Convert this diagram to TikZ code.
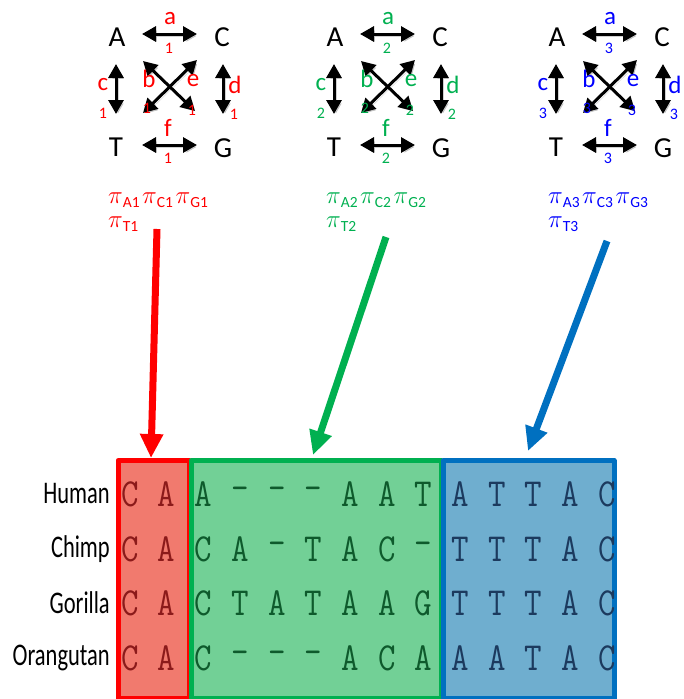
\documentclass[tikz,border=0pt]{standalone}
\usepackage{fontspec}
\setmainfont{Carlito}
\usetikzlibrary{arrows.meta}
\definecolor{rd}{HTML}{FF0000}
\definecolor{gn}{HTML}{00B050}
\definecolor{bl}{HTML}{0000FF}
\definecolor{blarrow}{HTML}{0070C0}
\definecolor{rfill}{HTML}{F17A6E}
\definecolor{gfill}{HTML}{72D096}
\definecolor{bfill}{HTML}{6FAECF}
\definecolor{rtext}{HTML}{8B1A1A}
\definecolor{gtext}{HTML}{0E5A2C}
\definecolor{btext}{HTML}{1C3A5E}
\newcommand\pis[2]{{\fontsize{28}{28}\selectfont$\pi$}\raisebox{-4.5pt}{\fontsize{15.5}{15.5}\selectfont #1#2}}
\newcommand\ratediag[3]{%
\begin{scope}[xshift=#1pt]
  \node[nuc] (A#3) at (117,37) {A};
  \node[nuc] (C#3) at (222,37) {C};
  \node[nuc] (T#3) at (116,147) {T};
  \node[nuc] (G#3) at (223,148) {G};
  \coordinate (a#3s) at (142,34); \coordinate (a#3e) at (197,34);
  \coordinate (f#3s) at (142,145); \coordinate (f#3e) at (197,145);
  \coordinate (c#3s) at (116,64); \coordinate (c#3e) at (116,114);
  \coordinate (d#3s) at (223,64); \coordinate (d#3e) at (223,114);
  \coordinate (b#3s) at (143,61); \coordinate (b#3e) at (195,111);
  \coordinate (e#3s) at (197,60); \coordinate (e#3e) at (143,113);
  \draw[dblarrow] (a#3s) -- (a#3e);
  \draw[dblarrow] (f#3s) -- (f#3e);
  \draw[dblarrow] (c#3s) -- (c#3e);
  \draw[dblarrow] (d#3s) -- (d#3e);
  \draw[dblarrow] (b#3s) -- (b#3e);
  \draw[dblarrow] (e#3s) -- (e#3e);
  \node[ratelbl, text=#2] (la#3) at (170,19) {a};
  \node[ratenum, text=#2] (na#3) at (169,48) {#3};
  \node[ratelbl, text=#2] (lc#3) at (103,85) {c};
  \node[ratenum, text=#2] (nc#3) at (103,113) {#3};
  \node[ratelbl, text=#2] (lb#3) at (149,79) {b};
  \node[ratenum, text=#2] (nb#3) at (147,108) {#3};
  \node[ratelbl, text=#2] (le#3) at (193,81) {e};
  \node[ratenum, text=#2] (ne#3) at (192,110) {#3};
  \node[ratelbl, text=#2] (ld#3) at (235,85) {d};
  \node[ratenum, text=#2] (nd#3) at (234,114) {#3};
  \node[ratelbl, text=#2] (lf#3) at (168,128) {f};
  \node[ratenum, text=#2] (nf#3) at (168,158) {#3};
  \node[anchor=base west, inner sep=0pt, text=#2] (pi#3) at (108,203)
     {\pis{A}{#3}\hspace{2.5pt}\pis{C}{#3}\hspace{2.5pt}\pis{G}{#3}};
  \node[anchor=base west, inner sep=0pt, text=#2] (pt#3) at (108,227) {\pis{T}{#3}};
\end{scope}}
\begin{document}
\begin{tikzpicture}[x=1pt,y=-1pt,
  nuc/.style={inner sep=0pt, font=\fontsize{29}{29}\selectfont},
  ratelbl/.style={inner sep=0pt, font=\fontsize{25}{25}\selectfont},
  ratenum/.style={inner sep=0pt, font=\fontsize{16}{16}\selectfont},
  dblarrow/.style={line width=3pt, {Triangle[length=14pt,width=15pt]}-{Triangle[length=14pt,width=15pt]},
     preaction={draw=black, opacity=0.18, transform canvas={shift={(2,2)}}}},
  bigarrow/.style={line width=7pt, -{Triangle[length=24pt,width=22pt]}},
  boxline/.style={line width=5pt, line join=round},
  seqch/.style={inner sep=0pt, anchor=center},
  species/.style={inner sep=0pt, anchor=east}]
\useasboundingbox (0,0) rectangle (683,699);
\ratediag{0}{rd}{1}
\ratediag{218}{gn}{2}
\ratediag{440}{bl}{3}
% boxes
\node[draw=rd, fill=rfill, boxline, minimum width=71pt, minimum height=238pt, anchor=north west, inner sep=0pt] (redbox) at (115.5,458) {};
\node[draw=gn, fill=gfill, boxline, minimum width=250pt, minimum height=238pt, anchor=north west, inner sep=0pt] (greenbox) at (188.5,458) {};
\node[draw=blarrow, fill=bfill, boxline, minimum width=171pt, minimum height=238pt, anchor=north west, inner sep=0pt] (bluebox) at (440.5,458) {};
% big arrows
\coordinate (r0) at (157,229); \coordinate (r1) at (151,458);
\coordinate (g0) at (386,237); \coordinate (g1) at (313,455);
\coordinate (b0) at (607,241); \coordinate (b1) at (528,451);
\draw[bigarrow, rd] (r0) -- (r1);
\draw[bigarrow, gn] (g0) -- (g1);
\draw[bigarrow, blarrow] (b0) -- (b1);
% species
\node[species] (human) at (110,494) {\scalebox{1}[1.4]{\fontsize{22.5}{22.5}\selectfont Human}};
\node[species] (chimp) at (110,549) {\scalebox{1}[1.4]{\fontsize{22.5}{22.5}\selectfont Chimp}};
\node[species] (gorilla) at (110,603) {\scalebox{1}[1.4]{\fontsize{22.5}{22.5}\selectfont Gorilla}};
\node[species] (orang) at (110,658) {\scalebox{1}[1.4]{\fontsize{22.5}{22.5}\selectfont Orangutan}};
% sequences
\foreach \row/\yy [count=\r] in {{C,A,A,-,-,-,A,A,T,A,T,T,A,C}/494,
                                  {C,A,C,A,-,T,A,C,-,T,T,T,A,C}/549,
                                  {C,A,C,T,A,T,A,A,G,T,T,T,A,C}/603,
                                  {C,A,C,-,-,-,A,C,A,A,A,T,A,C}/658}{
  \foreach \ch [count=\c from 0] in \row {
    \pgfmathsetmacro\xx{130+36.7*\c}
    \node[seqch] (s\r-\c) at (\xx,\yy) {\ifnum\c<2 \color{rtext}\else\ifnum\c<9 \color{gtext}\else\color{btext}\fi\fi
      \scalebox{1}[1.17]{\fontsize{34}{34}\selectfont\ttfamily \ch}};
  }
}
\end{tikzpicture}
\end{document}
